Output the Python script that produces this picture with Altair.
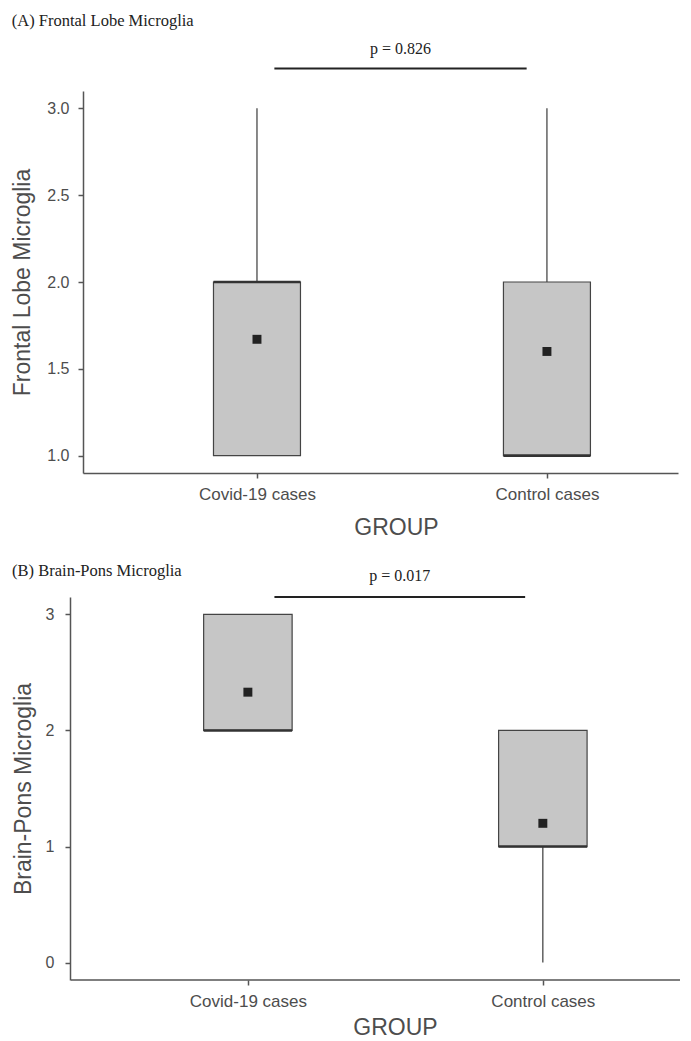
import altair as alt
import pandas as pd

# ---------------- data ----------------
groups = ["Covid-19 cases", "Control cases"]
group_pos = [1, 2]

# (A) Frontal Lobe Microglia : box-plot summary per group
a_min = [1.0, 1.0]
a_q1 = [1.0, 1.0]
a_med = [2.0, 1.0]
a_q3 = [2.0, 2.0]
a_max = [3.0, 3.0]
a_mean = [1.67, 1.60]
a_p = "p = 0.826"
a_sig_x = [1.06, 1.93]
a_sig_y = 3.23
a_p_y = 3.34
a_yticks = [1.0, 1.5, 2.0, 2.5, 3.0]

# (B) Brain-Pons Microglia
b_min = [2.0, 0.0]
b_q1 = [2.0, 1.0]
b_med = [2.0, 1.0]
b_q3 = [3.0, 2.0]
b_max = [3.0, 2.0]
b_mean = [2.33, 1.20]
b_p = "p = 0.017"
b_sig_x = [1.09, 1.94]
b_sig_y = 3.15
b_p_y = 3.33
b_yticks = [0, 1, 2, 3]

label_expr = "datum.value == %d ? '%s' : '%s'" % (group_pos[0], groups[0], groups[1])

AX_COL = "#555555"
TXT_COL = "#4d4d4d"


def panel(title, ytitle, mins, q1s, meds, q3s, maxs, means, ptxt, sig_x, sig_y, p_y,
          ydomain, yticks, yfmt, xdomain, width, height, title_offset,
          x_title_x, x_title_y, y_label_pad, y_title_pad,
          y_offset=0, x_line_from=None):
    df = pd.DataFrame({"group": groups, "pos": group_pos, "lo": mins, "q1": q1s,
                       "med": meds, "q3": q3s, "hi": maxs, "mean": means})
    sigdf = pd.DataFrame({"x1": [sig_x[0]], "x2": [sig_x[1]], "y": [sig_y],
                          "xm": [(sig_x[0] + sig_x[1]) / 2], "py": [p_y], "label": [ptxt]})

    xs = alt.Scale(domain=xdomain, nice=False, zero=False)
    ys = alt.Scale(domain=ydomain, nice=False, zero=False)
    xaxis = alt.Axis(values=group_pos, labelExpr=label_expr, title="GROUP", grid=False,
                     labelPadding=8, labelFontSize=17, titleX=x_title_x, titleY=x_title_y,
                     titleBaseline="top", domain=x_line_from is None)
    yaxis = alt.Axis(values=yticks, format=yfmt, title=ytitle, grid=False,
                     labelPadding=y_label_pad, titlePadding=y_title_pad, offset=y_offset)

    def X(f):
        return alt.X(f, type="quantitative", scale=xs, axis=xaxis)

    def Y(f):
        return alt.Y(f, type="quantitative", scale=ys, axis=yaxis)

    base = alt.Chart(df).transform_calculate(left="datum.pos - 0.15",
                                             right="datum.pos + 0.15")
    layers = []
    if x_line_from is not None:
        linedf = pd.DataFrame({"x1": [x_line_from], "x2": [xdomain[1]], "y": [ydomain[0]]})
        layers.append(alt.Chart(linedf).mark_rule(color=AX_COL, strokeWidth=1.5).encode(
            x=X("x1"), x2="x2:Q", y=Y("y")))
    whisk_lo = base.mark_rule(color="#3a3a3a", strokeWidth=1.2).encode(
        x=X("pos"), y=Y("lo"), y2="q1:Q")
    whisk_hi = base.mark_rule(color="#3a3a3a", strokeWidth=1.2).encode(
        x=X("pos"), y=Y("q3"), y2="hi:Q")
    box = base.mark_rect(fill="#c6c6c6", stroke="#444444", strokeWidth=1.2).encode(
        x=X("left"), x2="right:Q", y=Y("q1"), y2="q3:Q")
    med = base.mark_rule(color="#333333", strokeWidth=2.6).encode(
        x=X("left"), x2="right:Q", y=Y("med"))
    mean = base.mark_square(size=80, color="#222222", opacity=1).encode(
        x=X("pos"), y=Y("mean"))
    sigbar = alt.Chart(sigdf).mark_rule(color="#222222", strokeWidth=2).encode(
        x=X("x1"), x2="x2:Q", y=Y("y"))
    ptext = alt.Chart(sigdf).mark_text(font="Liberation Serif", fontSize=16,
                                       color="#222222", baseline="middle").encode(
        x=X("xm"), y=Y("py"), text="label:N")
    layers += [whisk_lo, whisk_hi, box, med, mean, sigbar, ptext]

    return alt.layer(*layers).properties(
        width=width, height=height,
        title=alt.TitleParams(title, anchor="start", frame="bounds",
                              font="Liberation Serif", fontSize=16.5,
                              fontWeight="normal", color="#222222",
                              offset=title_offset))


chart_a = panel("(A) Frontal Lobe Microglia", "Frontal Lobe Microglia",
                a_min, a_q1, a_med, a_q3, a_max, a_mean, a_p, a_sig_x, a_sig_y, a_p_y,
                [0.9, 3.1], a_yticks, ".1f", [0.4, 2.452], 595, 382, 12,
                x_title_x=313, x_title_y=43, y_label_pad=9, y_title_pad=12)
chart_b = panel("(B) Brain-Pons Microglia", "Brain-Pons Microglia",
                b_min, b_q1, b_med, b_q3, b_max, b_mean, b_p, b_sig_x, b_sig_y, b_p_y,
                [-0.15, 3.15], b_yticks, "d", [0.441, 2.465], 597, 383, -11,
                x_title_x=312, x_title_y=36, y_label_pad=11, y_title_pad=10,
                y_offset=13, x_line_from=0.4)

chart = alt.ConcatChart(concat=[chart_a, chart_b], columns=1, align="none",
                        spacing=23).properties(
    padding={"left": 3, "top": 4, "right": 0, "bottom": 0},
    background="white"
).configure_view(stroke=None).configure_axis(
    labelFont="Liberation Sans", labelFontSize=16, labelColor=TXT_COL,
    titleFont="Liberation Sans", titleFontSize=23, titleFontWeight="normal",
    titleColor=TXT_COL, domainColor=AX_COL, domainWidth=1.5,
    tickColor=AX_COL, tickWidth=1.5, tickSize=5
)

chart.save("out.html", embed_options={"renderer": "svg", "actions": False})
